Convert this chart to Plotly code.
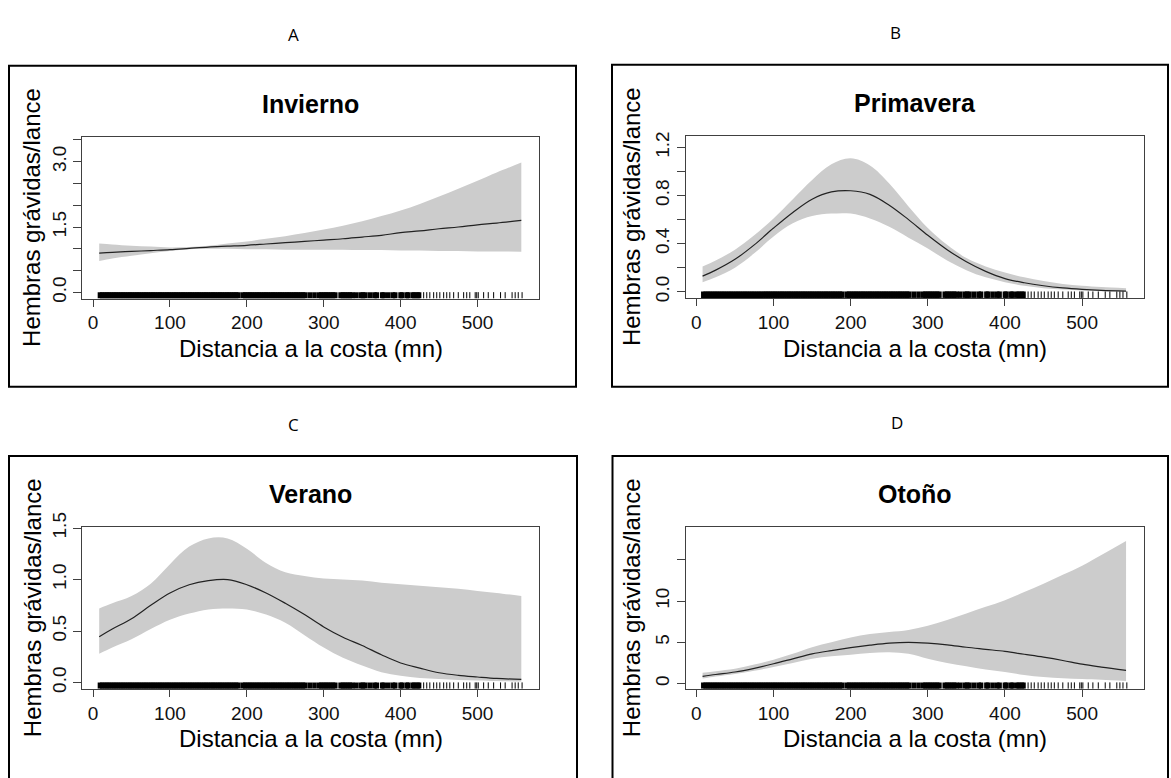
import plotly.graph_objects as go

W, H = 1171, 778

# ---------------- data ----------------
dist = [8, 25, 50, 75, 100, 125, 150, 175, 200, 225, 250, 275, 300,
        325, 350, 375, 400, 425, 450, 475, 500, 525, 557]

inv_fit = [0.90, 0.92, 0.94, 0.96, 0.98, 1.01, 1.04, 1.06, 1.08, 1.11, 1.14, 1.17, 1.20,
           1.23, 1.27, 1.31, 1.37, 1.41, 1.46, 1.50, 1.55, 1.59, 1.65]
inv_hi = [1.12, 1.10, 1.07, 1.05, 1.03, 1.04, 1.07, 1.12, 1.17, 1.23, 1.29, 1.36, 1.44,
          1.53, 1.63, 1.75, 1.88, 2.03, 2.20, 2.38, 2.56, 2.75, 2.98]
inv_lo = [0.72, 0.78, 0.84, 0.90, 0.95, 0.99, 1.00, 1.00, 0.99, 0.99, 0.98, 0.98, 0.98,
          0.98, 0.97, 0.97, 0.96, 0.96, 0.95, 0.95, 0.94, 0.94, 0.93]

pri_fit = [0.13, 0.18, 0.27, 0.39, 0.53, 0.66, 0.77, 0.83, 0.84, 0.81, 0.72, 0.60, 0.47,
           0.35, 0.25, 0.17, 0.11, 0.075, 0.05, 0.032, 0.02, 0.012, 0.006]
pri_hi = [0.21, 0.26, 0.35, 0.47, 0.61, 0.77, 0.93, 1.06, 1.11, 1.05, 0.90, 0.71, 0.53,
          0.39, 0.28, 0.21, 0.16, 0.12, 0.09, 0.065, 0.05, 0.04, 0.03]
pri_lo = [0.08, 0.12, 0.20, 0.32, 0.46, 0.57, 0.63, 0.65, 0.65, 0.61, 0.54, 0.45, 0.36,
          0.26, 0.18, 0.12, 0.08, 0.05, 0.03, 0.018, 0.01, 0.005, 0.002]

ver_fit = [0.445, 0.52, 0.62, 0.75, 0.87, 0.95, 0.99, 1.00, 0.95, 0.87, 0.77, 0.66, 0.54,
           0.44, 0.36, 0.27, 0.19, 0.14, 0.095, 0.07, 0.054, 0.04, 0.03]
ver_hi = [0.72, 0.77, 0.84, 0.96, 1.15, 1.32, 1.40, 1.40, 1.30, 1.16, 1.07, 1.035, 1.01,
          1.00, 0.99, 0.97, 0.955, 0.94, 0.925, 0.91, 0.89, 0.87, 0.84]
ver_lo = [0.28, 0.34, 0.42, 0.52, 0.61, 0.67, 0.71, 0.72, 0.71, 0.66, 0.58, 0.46, 0.34,
          0.24, 0.165, 0.10, 0.066, 0.045, 0.035, 0.025, 0.02, 0.015, 0.01]

oto_fit = [0.87, 1.1, 1.4, 1.85, 2.4, 3.0, 3.6, 4.0, 4.35, 4.65, 4.9, 5.0, 4.9,
           4.7, 4.4, 4.15, 3.9, 3.55, 3.2, 2.8, 2.35, 2.0, 1.6]
oto_hi = [1.3, 1.5, 1.8, 2.3, 2.9, 3.6, 4.4, 5.0, 5.6, 6.0, 6.25, 6.5, 7.0,
          7.7, 8.5, 9.3, 10.1, 11.1, 12.1, 13.2, 14.3, 15.6, 17.3]
oto_lo = [0.6, 0.85, 1.15, 1.55, 2.0, 2.5, 3.0, 3.3, 3.5, 3.7, 3.8, 3.6, 3.0,
          2.5, 2.1, 1.7, 1.4, 1.05, 0.8, 0.65, 0.55, 0.45, 0.3]

# rug of observed distances (dense part and isolated ticks)
rug_dense = [9, 12, 15, 18, 21, 24, 27, 30, 33, 36, 39, 42, 45, 48, 51, 54, 57, 60,
             63, 66, 69, 72, 75, 78, 81, 84, 87, 90, 93, 96, 99, 102, 105, 108, 111,
             114, 117, 120, 123, 126, 129, 132, 135, 138, 141, 144, 147, 150, 153, 156,
             159, 162, 165, 168, 171, 174, 177, 180, 183, 186, 189, 195, 198, 201, 204,
             207, 210, 213, 216, 219, 222, 225, 228, 231, 234, 237, 240, 243, 246, 249,
             252, 255, 258, 261, 264, 267, 270, 273, 276, 282, 288, 294, 297, 300, 303,
             306, 309, 312, 315, 322, 325, 328, 331, 334, 337, 342, 348, 351, 354, 360,
             366, 369, 376, 378, 384, 390, 393, 400, 402, 408, 410, 416, 418, 422, 424]
rug_sparse = [430, 434, 438, 443, 447, 451, 456, 460, 464, 469, 475, 482, 486, 490,
              497, 499, 501, 508, 514, 521, 530, 536, 545, 549, 553, 558]

x_ticks = [0, 100, 200, 300, 400, 500]
x_range = [-14, 580]

titles = ["Invierno", "Primavera", "Verano", "Otoño"]
letters = ["A", "B", "C", "D"]
fits = [inv_fit, pri_fit, ver_fit, oto_fit]
his = [inv_hi, pri_hi, ver_hi, oto_hi]
los = [inv_lo, pri_lo, ver_lo, oto_lo]

y_tickvals = [[0, 0.5, 1.0, 1.5, 2.0, 2.5, 3.0, 3.5],
              [0, 0.2, 0.4, 0.6, 0.8, 1.0, 1.2],
              [0, 0.5, 1.0, 1.5],
              [0, 5, 10, 15]]
y_ticktext = [["0.0", "", "", "1.5", "", "", "3.0", ""],
              ["0.0", "", "0.4", "", "0.8", "", "1.2"],
              ["0.0", "0.5", "1.0", "1.5"],
              ["0", "5", "10", ""]]
y_ranges = [[-0.143, 3.56], [-0.051, 1.293], [-0.061, 1.506], [-0.64, 18.93]]

# ---------------- layout geometry (pixels) ----------------
plot_px = [(82.3, 125.3, 539, 290.7), (685.6, 124.3, 1143.8, 290),
           (82.3, 525.3, 539, 690.7), (685.6, 525.3, 1143.8, 690.7)]
box_px = [(9, 52, 576, 381), (612, 51, 1168, 381),
          (9, 452, 577, 830), (612.5, 452, 1168, 830)]
letter_px = [(293, 20), (896, 18), (293.5, 420), (897, 418)]
title_y = [91, 90, 491, 491]
xtitle_y = [342, 342, 742, 742]
ytitle_x = [32, 631, 32, 631]

FONT = "Liberation Sans, Arial, sans-serif"
BAND = "#cccccc"
AX = "#404040"

fig = go.Figure()
layout = dict(width=W, height=H, margin=dict(l=0, r=0, t=0, b=0),
              paper_bgcolor="white", plot_bgcolor="white", showlegend=False,
              shapes=[], annotations=[])

for i in range(4):
    n = "" if i == 0 else str(i + 1)
    xa, ya = "x" + n, "y" + n
    x0, y0, x1, y1 = plot_px[i]
    layout["xaxis" + n] = dict(
        domain=[x0 / W, x1 / W], range=x_range, anchor=ya,
        tickvals=x_ticks, ticktext=[str(t) for t in x_ticks],
        ticks="outside", ticklen=7, tickwidth=1, tickcolor=AX,
        showline=True, linecolor=AX, linewidth=1, mirror=True,
        showgrid=False, zeroline=False,
        tickfont=dict(family=FONT, size=19, color="#111"))
    layout["yaxis" + n] = dict(
        domain=[1 - y1 / H, 1 - y0 / H], range=y_ranges[i], anchor=xa,
        tickvals=y_tickvals[i], ticktext=y_ticktext[i], tickangle=-90,
        ticks="outside", ticklen=8, tickwidth=1, tickcolor=AX,
        showline=True, linecolor=AX, linewidth=1, mirror=True,
        showgrid=False, zeroline=False,
        tickfont=dict(family=FONT, size=19, color="#111"))

    # confidence band
    fig.add_trace(go.Scatter(x=dist, y=his[i], xaxis=xa, yaxis=ya, mode="lines",
                             line=dict(width=0, color=BAND, shape="spline"),
                             hoverinfo="skip"))
    fig.add_trace(go.Scatter(x=dist, y=los[i], xaxis=xa, yaxis=ya, mode="lines",
                             line=dict(width=0, color=BAND, shape="spline"),
                             fill="tonexty", fillcolor=BAND, hoverinfo="skip"))
    # fitted curve
    fig.add_trace(go.Scatter(x=dist, y=fits[i], xaxis=xa, yaxis=ya, mode="lines",
                             line=dict(width=1.2, color="#222", shape="spline")))
    # rug
    yb, yt = y_ranges[i]
    r0, r1 = yb, yb + 0.04 * (yt - yb)
    for vals, lw in ((rug_dense, 4.6), (rug_sparse, 1.0)):
        rx, ry = [], []
        for v in vals:
            rx += [v, v, None]
            ry += [r0, r1, None]
        fig.add_trace(go.Scatter(x=rx, y=ry, xaxis=xa, yaxis=ya, mode="lines",
                                 line=dict(width=lw, color="black"),
                                 hoverinfo="skip", cliponaxis=False))

    # outer panel box
    bx0, by0, bx1, by1 = box_px[i]
    layout["shapes"].append(dict(type="rect", xref="paper", yref="paper",
                                 x0=bx0 / W, x1=bx1 / W, y0=1 - by1 / H, y1=1 - by0 / H,
                                 line=dict(color="black", width=2), layer="above"))
    # texts
    cx = (x0 + x1) / 2
    cy = (y0 + y1) / 2
    lx, ly = letter_px[i]
    layout["annotations"] += [
        dict(text=letters[i], x=lx / W, y=1 - ly / H, xref="paper", yref="paper",
             showarrow=False, xanchor="center", yanchor="middle",
             font=dict(family="Open Sans, sans-serif", size=17, color="black")),
        dict(text="<b>" + titles[i] + "</b>", x=cx / W, y=1 - title_y[i] / H,
             xref="paper", yref="paper", showarrow=False,
             xanchor="center", yanchor="middle",
             font=dict(family=FONT, size=25, color="black")),
        dict(text="Distancia a la costa (mn)", x=cx / W, y=1 - xtitle_y[i] / H,
             xref="paper", yref="paper", showarrow=False,
             xanchor="center", yanchor="middle",
             font=dict(family=FONT, size=24, color="black")),
        dict(text="Hembras grávidas/lance", x=ytitle_x[i] / W, y=1 - cy / H,
             xref="paper", yref="paper", showarrow=False, textangle=-90,
             xanchor="center", yanchor="middle",
             font=dict(family=FONT, size=24, color="black")),
    ]

fig.update_layout(**layout)
fig.write_html("out.html")
